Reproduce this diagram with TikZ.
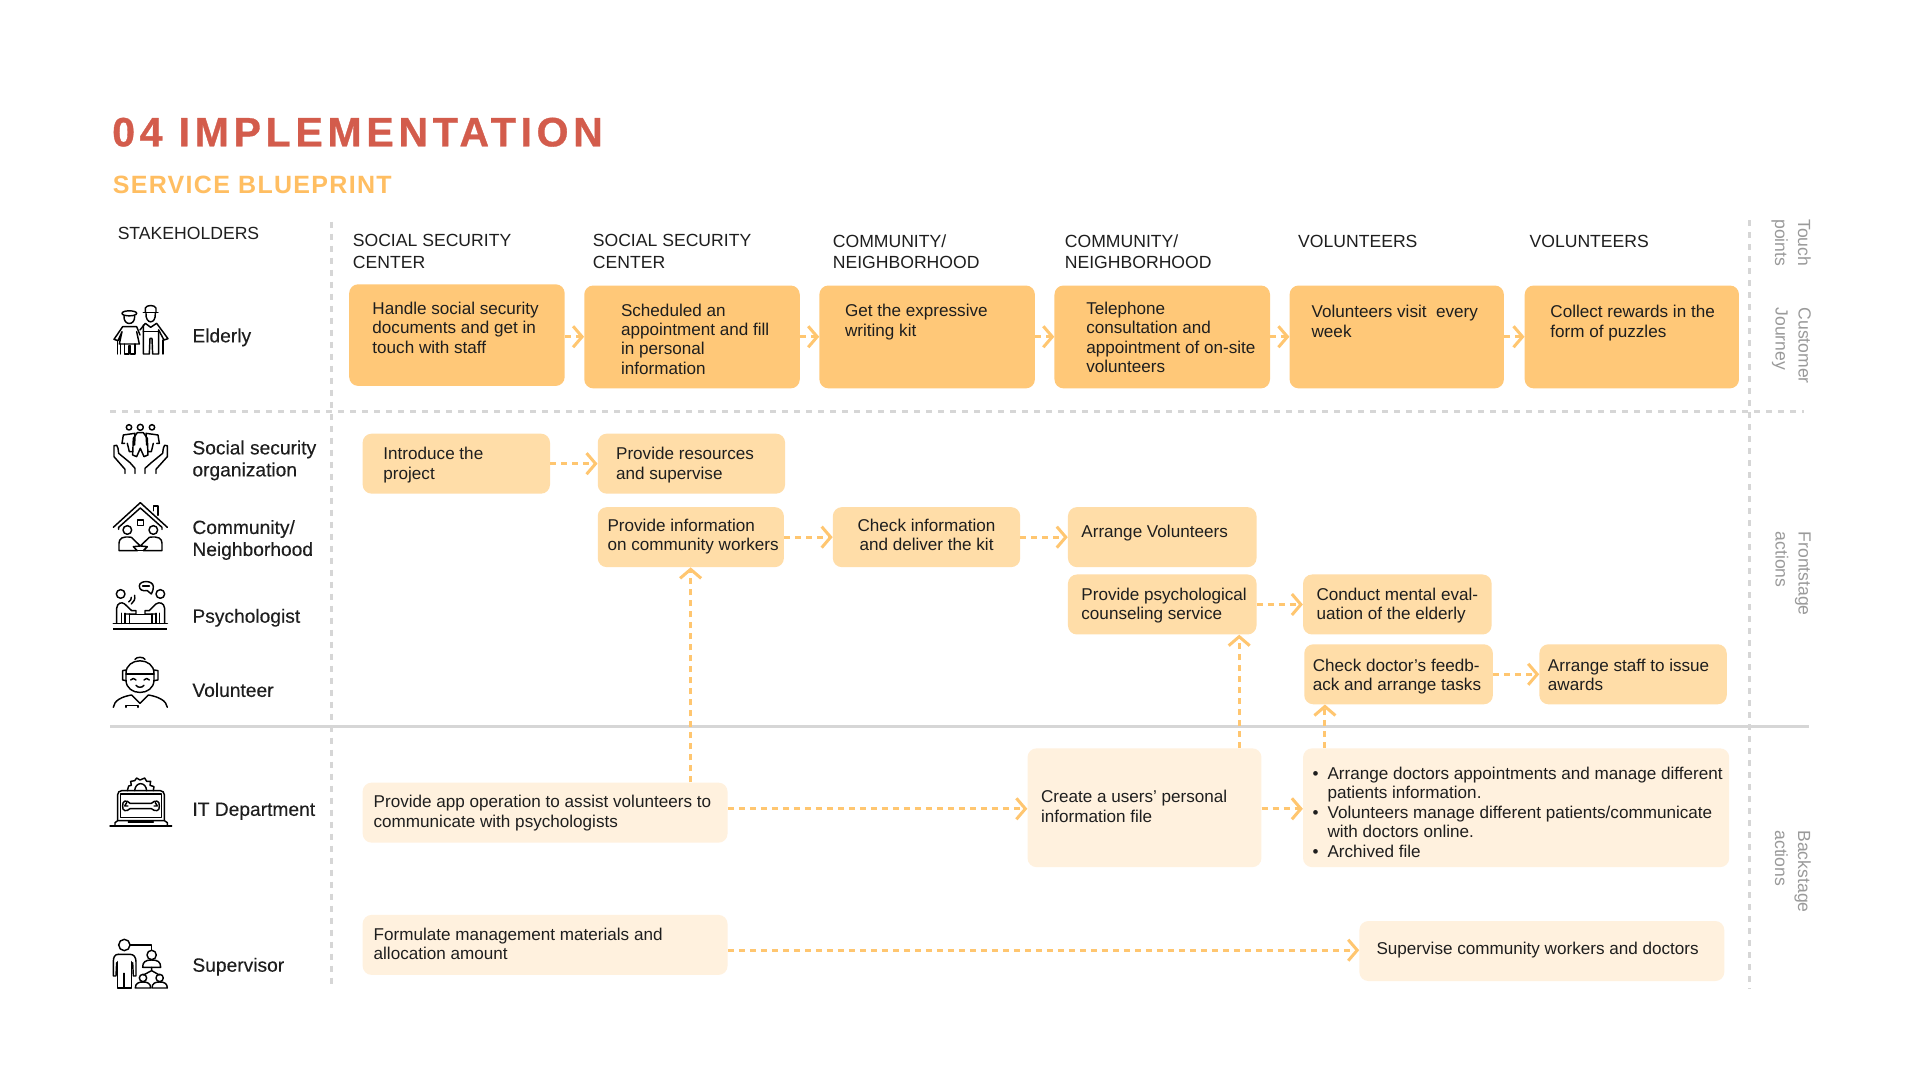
\documentclass[tikz,border=0pt]{standalone}
\usepackage{fontspec}
\usetikzlibrary{arrows.meta}
\setmainfont{Liberation Sans}
\newfontfamily\medf[FakeBold=0.25]{Liberation Sans}
\newfontfamily\titlef[LetterSpace=11.5,FakeBold=0.8]{Liberation Sans}
\newfontfamily\subf[LetterSpace=5.2]{Liberation Sans}
\definecolor{jc}{HTML}{FFC878}
\definecolor{fc}{HTML}{FFDDA8}
\definecolor{bc}{HTML}{FFF1DE}
\definecolor{arrowc}{HTML}{FFC670}
\definecolor{linec}{HTML}{D6D6D6}
\definecolor{titlec}{HTML}{D35C4C}
\definecolor{subc}{HTML}{FFBE62}
\definecolor{inkc}{HTML}{1E1E1E}
\definecolor{sidec}{HTML}{9A9A9A}
\tikzset{
 journeybox/.style={fill=jc,rounded corners=9pt},
 frontbox/.style={fill=fc,rounded corners=9pt},
 backbox/.style={fill=bc,rounded corners=9pt},
 flow/.style={draw=arrowc,line width=3pt,dash pattern=on 6pt off 5pt,-{Straight Barb[length=9pt,width=21pt,line width=3pt]}},
 gridline/.style={draw=linec,line width=3pt,dash pattern=on 6pt off 6pt},
 solidline/.style={draw=linec,line width=3pt},
 lbl/.style={anchor=west,inner sep=0pt,align=left,text=inkc,font=\fontsize{17.6}{21.6}\selectfont},
 whoname/.style={anchor=west,inner sep=0pt,align=left,text=inkc,font=\fontsize{19.2}{22}\medf},
 side/.style={anchor=north west,rotate=-90,inner sep=0pt,align=left,text=sidec,font=\fontsize{17.6}{23}\selectfont},
 icon/.style={line width=1.45pt,draw=black,line join=round,line cap=round},
 zoomA/.style={shift={(73.5,228.67)},x=0.3333pt,y=-0.3333pt},
 zoomB/.style={shift={(73.5,588)},x=0.3333pt,y=-0.3333pt},
}
\newcommand\bul{\leavevmode\llap{\textbullet\hspace{9pt}}}
\newcommand\bx[9]{%
 \pgfmathsetlengthmacro\bW{(#5-#3)*1.2245pt}%
 \pgfmathsetlengthmacro\bH{(#6-#4)*1.2245pt}%
 \pgfmathsetlengthmacro\bP{(#7-#3)*1.2245pt}%
 \pgfmathsetlengthmacro\bT{(#8-#4)*1.2245pt+5.5pt}%
 \node[#2,anchor=north west,inner sep=0pt,text=inkc,minimum width=\bW,minimum height=\bH] (#1) at (#3,#4)
 {\begin{minipage}[t][\bH][t]{\bW}\fontsize{17.1}{19.4}\selectfont\raggedright\leftskip=\bP\rightskip=-60pt plus 1fil\parindent=0pt\rule{0pt}{\bT}#9\end{minipage}};}
\begin{document}
\begin{tikzpicture}[x=1.2245pt,y=-1.2245pt]
\useasboundingbox (0,0) rectangle (1568,882);
\fill[white] (0,0) rectangle (1568,882);
% titles
\node[anchor=base west,inner sep=0pt,text=titlec,font=\fontsize{41}{44}\titlef\bfseries] (title) at (91.5,119.5) {04 IMPLEMENTATION};
\node[anchor=base west,inner sep=0pt,text=subc,font=\fontsize{25}{28}\subf\bfseries] (subtitle) at (92,158) {SERVICE BLUEPRINT};
% grid
\coordinate (gl) at (90,336); \coordinate (gr) at (1473,336);
\coordinate (sl) at (90,593); \coordinate (sr) at (1477,593);
\coordinate (v1t) at (271,181); \coordinate (v1b) at (271,808);
\coordinate (v2t) at (1429,180); \coordinate (v2b) at (1429,808);
\draw[gridline] (v1t) -- (v1b);
\draw[gridline] (v2t) -- (v2b);
\draw[gridline] (gl) -- (gr);
\draw[solidline] (sl) -- (sr);
% headers
\node[lbl] (stake) at (96,191) {STAKEHOLDERS};
\node[lbl] (h1) at (288,205.5) {SOCIAL SECURITY\\CENTER};
\node[lbl] (h2) at (484,205.5) {SOCIAL SECURITY\\CENTER};
\node[lbl] (h3) at (680,205.5) {COMMUNITY/\\NEIGHBORHOOD};
\node[lbl] (h4) at (869.5,205.5) {COMMUNITY/\\NEIGHBORHOOD};
\node[lbl] (h5) at (1060,197) {VOLUNTEERS};
\node[lbl] (h6) at (1249,197) {VOLUNTEERS};
% side labels
\node[side] (s1) at (1479,179) {Touch\\points};
\node[side] (s2) at (1479,251) {Customer\\Journey};
\node[side] (s3) at (1479,434) {Frontstage\\actions};
\node[side] (s4) at (1479,678) {Backstage\\actions};
% stakeholder names
\node[whoname] (n1) at (157,275.5) {Elderly};
\node[whoname] (n2) at (157,376) {Social security\\organization};
\node[whoname] (n3) at (157,441) {Community/\\Neighborhood};
\node[whoname] (n4) at (157,504.5) {Psychologist};
\node[whoname] (n5) at (157,563.5) {Volunteer};
\node[whoname] (n6) at (157,662.5) {IT Department};
\node[whoname] (n7) at (157,789.5) {Supervisor};
% boxes
\bx{j1}{journeybox}{285}{232}{461}{315}{304}{252}{Handle social security\\documents and get in\\touch with staff}
\bx{j2}{journeybox}{477}{233}{653}{317}{507}{253.5}{Scheduled an\\appointment and fill\\in personal\\information}
\bx{j3}{journeybox}{669}{233}{845}{317}{690}{254}{Get the expressive\\writing kit}
\bx{j4}{journeybox}{861}{233}{1037}{317}{887}{252}{Telephone\\consultation and\\appointment of on-site\\volunteers}
\bx{j5}{journeybox}{1053}{233}{1228}{317}{1071}{255}{Volunteers visit~ every\\week}
\bx{j6}{journeybox}{1245}{233}{1420}{317}{1266}{255}{Collect rewards in the\\form of puzzles}
\bx{f1}{frontbox}{296}{354}{449}{403}{313}{371}{Introduce the\\project}
\bx{f2}{frontbox}{488}{354}{641}{403}{503}{371}{Provide resources\\and supervise}
\bx{f3}{frontbox}{488}{414}{640}{463}{496}{429}{Provide information\\on community workers}
\bx{f4}{frontbox}{680}{414}{833}{463}{680}{429}{\centering Check information\\and deliver the kit}
\bx{f5}{frontbox}{872}{414}{1026}{463}{883}{434}{Arrange Volunteers}
\bx{f6}{frontbox}{872}{469}{1026}{518}{883}{485.5}{Provide psychological\\counseling service}
\bx{f7}{frontbox}{1064}{469}{1218}{518}{1075}{485.5}{Conduct mental eval-\\uation of the elderly}
\bx{f8}{frontbox}{1065}{526}{1219}{575}{1072}{543.5}{Check doctor’s feedb-\\ack and arrange tasks}
\bx{f9}{frontbox}{1257}{526}{1410}{575}{1264}{543.5}{Arrange staff to issue\\awards}
\bx{b1}{backbox}{296}{639}{594}{688}{305}{655}{Provide app operation to assist volunteers to\\communicate with psychologists}
\bx{b2}{backbox}{839}{611}{1030}{708}{850}{651}{Create a users’ personal\\information file}
\bx{b3}{backbox}{1064}{611}{1412}{708}{1084}{632}{\bul Arrange doctors appointments and manage different\\patients information.\\\bul Volunteers manage different patients/communicate\\with doctors online.\\\bul Archived file}
\bx{b4}{backbox}{296}{747}{594}{796}{305}{763}{Formulate management materials and\\allocation amount}
\bx{b5}{backbox}{1110}{752}{1408}{801}{1124}{775}{Supervise community workers and doctors}
% connectors
\coordinate (yj) at (0,275);
\draw[flow] (j1.east |- yj) -- (j2.west |- yj);
\draw[flow] (j2.east |- yj) -- (j3.west |- yj);
\draw[flow] (j3.east |- yj) -- (j4.west |- yj);
\draw[flow] (j4.east |- yj) -- (j5.west |- yj);
\draw[flow] (j5.east |- yj) -- (j6.west |- yj);
\draw[flow] (f1.east) -- (f2.west);
\draw[flow] (f3.east) -- (f4.west);
\draw[flow] (f4.east) -- (f5.west);
\draw[flow] (f6.east) -- (f7.west);
\draw[flow] (f8.east) -- (f9.west);
\coordinate (yb) at (0,660.5);
\draw[flow] (b1.east |- yb) -- (b2.west |- yb);
\draw[flow] (b2.east |- yb) -- (b3.west |- yb);
\coordinate (ys) at (0,776);
\draw[flow] (b4.east |- ys) -- (b5.west |- ys);
\coordinate (xa) at (564,0); \coordinate (xb) at (1012,0); \coordinate (xc) at (1082,0);
\draw[flow] (b1.north -| xa) -- (f3.south -| xa);
\draw[flow] (b2.north -| xb) -- (f6.south -| xb);
\draw[flow] (b3.north -| xc) -- (f8.south -| xc);
% icons in crop coordinates
\begin{scope}[zoomA]
 % elderly
 \draw[icon] (96,100) .. controls (96,90) and (140,90) .. (140,100) .. controls (140,110) and (96,110) .. (96,100);
 \draw[icon] (102,108) .. controls (100,138) and (136,138) .. (134,108);
 \draw[icon] (72,178) -- (98,140) -- (140,140) -- (150,165);
 \draw[icon] (72,178) -- (84,182) -- (96,155) -- (88,192) -- (148,192) -- (140,155);
 \draw[icon] (82,182) -- (82,222) (92,192) -- (92,222);
 \draw[icon] (104,192) -- (104,222) -- (117,222) -- (117,198) -- (122,198) -- (122,222) -- (135,222) -- (135,192);
 \draw[icon] (166,97) -- (166,84) .. controls (170,74) and (194,74) .. (198,84) -- (198,97);
 \draw[icon] (160,98) -- (204,98);
 \draw[icon] (168,100) .. controls (166,134) and (198,134) .. (196,100);
 \draw[icon] (150,150) -- (166,130) -- (182,142) -- (200,130) -- (234,176) -- (222,180) -- (206,150);
 \draw[icon] (160,155) -- (205,155);
 \draw[icon] (160,135) -- (160,222) -- (178,222) -- (180,175) -- (186,175) -- (188,222) -- (206,222) -- (206,150);
 \draw[icon] (219,180) -- (219,222);
 % social security
 \foreach \cx/\r in {117/8,151/9,186/8} \draw[icon] (\cx,442) circle (\r);
 \draw[icon] (96,490) -- (100,465) -- (135,460) -- (134,495);
 \draw[icon] (208,490) -- (204,465) -- (168,460) -- (170,495);
 \draw[icon] (130,475) -- (128,525) -- (140,530) -- (151,505) -- (162,530) -- (174,525) -- (172,475) -- (160,458) -- (142,458) -- cycle;
 \draw[icon] (96,490) -- (104,490) (208,490) -- (200,490) (112,490) -- (118,515) -- (128,515) (190,490) -- (184,515) -- (174,515);
 \draw[icon] (105,580) -- (105,568) -- (72,530) -- (72,497) .. controls (78,492) and (84,497) .. (84,505) -- (86,520) -- (120,548) -- (135,565) -- (135,580);
 \draw[icon] (198,580) -- (198,568) -- (232,530) -- (232,497) .. controls (226,492) and (220,497) .. (220,505) -- (218,520) -- (184,548) -- (165,565) -- (165,580);
 % community
 \draw[icon] (70,742) -- (151,668) -- (232,742);
 \draw[icon] (86,748) -- (86,742) -- (151,684) -- (216,742) -- (216,748);
 \draw[icon] (190,692) -- (190,678) -- (204,678) -- (204,706);
 \draw[icon] (142,720) rectangle (160,736);
 \draw[icon] (112,750) circle (13) (190,750) circle (13);
 \draw[icon] (124,772) -- (151,798) -- (178,772) .. controls (205,768) and (216,775) .. (216,790) -- (216,812) -- (160,812) -- (172,800) -- (151,798) -- (130,800) -- (142,812) -- (87,812) -- (87,790) .. controls (87,775) and (98,768) .. (124,772);
 \draw[icon] (145,812) -- (158,812);
 % psychologist
 \draw[icon] (92,942) circle (13) (211,942) circle (13);
 \draw[icon] (148,918) .. controls (148,900) and (190,900) .. (190,920) .. controls (190,932) and (186,936) .. (184,942) -- (172,932) .. controls (158,934) and (148,930) .. (148,918);
 \draw[icon] (158,918) -- (178,918);
 \draw[icon] (116,966) .. controls (122,962) and (124,958) .. (124,952) (124,972) .. controls (132,966) and (136,958) .. (134,946);
 \draw[icon] (70,1030) -- (232,1030);
 \draw[line width=2pt,draw=black] (70,1046) -- (232,1046);
 \draw[icon] (80,1030) -- (80,985) .. controls (82,968) and (95,965) .. (104,972) -- (125,992) -- (138,992) -- (138,1002) -- (105,1002);
 \draw[icon] (224,1030) -- (224,985) .. controls (222,968) and (208,965) .. (198,972) -- (178,992) -- (165,992) -- (165,1002) -- (198,1002);
 \draw[icon] (105,1000) -- (105,1030) (118,1002) -- (118,1030) (198,1000) -- (198,1030) (186,1002) -- (186,1030) (95,1000) -- (95,1030) (208,1000) -- (208,1030);
 \draw[icon] (118,1004) -- (186,1004);
 % volunteer
 \draw[icon] (108,1180) .. controls (108,1130) and (192,1130) .. (192,1180) -- (192,1200) .. controls (192,1250) and (108,1250) .. (108,1200) -- cycle;
 \draw[icon] (108,1182) -- (192,1182);
 \draw[icon] (108,1170) -- (98,1172) -- (98,1200) -- (108,1202) (192,1170) -- (204,1172) -- (204,1200) -- (192,1202);
 \draw[icon] (135,1138) .. controls (140,1130) and (160,1130) .. (165,1138);
 \draw[icon] (122,1200) .. controls (126,1194) and (134,1194) .. (138,1200) (162,1200) .. controls (166,1194) and (174,1194) .. (178,1200);
 \draw[icon] (138,1216) .. controls (144,1224) and (156,1224) .. (162,1216);
 \draw[icon] (70,1282) .. controls (72,1262) and (95,1250) .. (125,1245) -- (150,1270) -- (175,1245) .. controls (205,1250) and (230,1262) .. (232,1282);
 \draw[icon] (108,1282) -- (108,1277) -- (144,1277) -- (144,1282);
\end{scope}
\begin{scope}[zoomB]
 % IT
 \draw[icon] (112,212) -- (116,198) -- (124,196) -- (122,184) -- (134,182) -- (140,174) -- (150,180) -- (164,174) -- (170,184) -- (182,184) -- (180,196) -- (192,200) -- (190,212);
 \draw[icon] (134,212) .. controls (136,184) and (168,184) .. (170,212);
 \draw[icon,rounded corners=4pt] (83,300) -- (83,212) -- (223,212) -- (223,300);
 \draw[icon] (92,222) rectangle (214,292);
 \draw[icon] (60,318) -- (245,318);
 \draw[icon] (75,318) -- (75,308) -- (83,302) -- (223,302) -- (232,308) -- (232,318);
 \draw[icon] (115,306) -- (190,306);
 \draw[icon] (120,250) .. controls (110,238) and (96,242) .. (98,258) .. controls (96,274) and (110,276) .. (120,266) -- (184,266) .. controls (196,276) and (210,274) .. (208,258) .. controls (210,242) and (196,238) .. (184,250) -- cycle;
 \draw[icon] (110,248) -- (104,258) -- (114,258) (196,248) -- (202,258) -- (192,258);
 % supervisor
 \draw[icon] (103,675) circle (17);
 \draw[icon] (120,675) -- (185,675) -- (185,690);
 \draw[icon] (185,705) circle (14);
 \draw[icon] (158,742) .. controls (158,726) and (166,720) .. (185,720) .. controls (204,720) and (212,726) .. (212,742) -- cycle;
 \draw[icon] (185,742) -- (185,752) -- (160,765) (185,752) -- (208,765);
 \draw[icon] (159,774) circle (11) (209,774) circle (11);
 \draw[icon] (136,804) .. controls (136,790) and (146,786) .. (159,786) .. controls (172,786) and (182,790) .. (182,804) -- cycle;
 \draw[icon] (186,804) .. controls (186,790) and (196,786) .. (209,786) .. controls (222,786) and (232,790) .. (232,804) -- cycle;
 \draw[icon] (85,703) -- (120,703) .. controls (132,703) and (138,712) .. (138,725) -- (138,768) -- (130,768) -- (128,728);
 \draw[icon] (85,703) .. controls (74,703) and (70,712) .. (70,725) -- (70,768) -- (78,768) -- (80,728);
 \draw[icon] (82,725) -- (82,804) -- (102,804) -- (102,765) (102,804) -- (124,804) -- (124,725) (102,760) -- (102,765);
\end{scope}
\end{tikzpicture}
\end{document}
